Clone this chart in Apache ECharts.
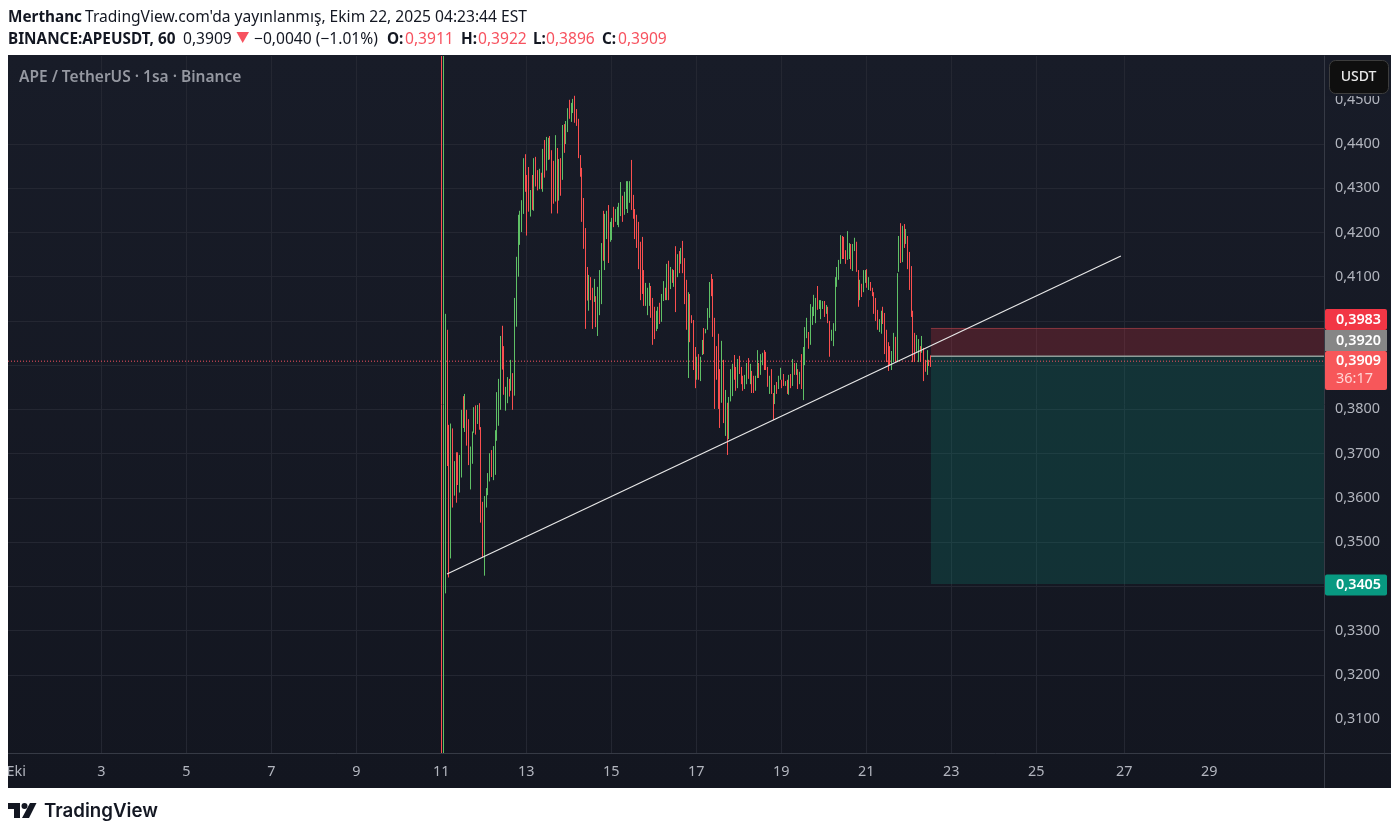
<!DOCTYPE html>
<html style="height: 100%">
<head>
<meta charset="utf-8">
<script src="https://cdn.jsdelivr.net/npm/echarts@6/dist/echarts.min.js"></script>
</head>
<body style="height: 100%; margin: 0; background: #fff">
<div id="container" style="width: 1400px; height: 835px"></div>
<script>
// hourly bars, prices in 1/10000 USDT
var barHighs = [
  4800,4700,4016,3980,3765,3768,3757,3683,3703,3703,
  3697,3799,3830,3835,3799,3778,3716,3750,3805,3809,
  3810,3814,3760,3591,3604,3622,3656,3701,3708,3717,
  3753,3839,3869,3966,3989,3943,3851,3873,3869,3912,
  3882,4052,4145,4240,4249,4273,4368,4377,4330,4348,
  4296,4330,4368,4371,4341,4344,4335,4389,4409,4416,
  4414,4418,4386,4362,4420,4391,4366,4368,4443,4445,
  4452,4481,4500,4493,4502,4509,4479,4457,4375,4346,
  4278,4210,4122,4104,4099,4075,4095,4056,4077,4115,
  4176,4249,4242,4249,4262,4224,4233,4258,4253,4258,
  4267,4314,4283,4292,4316,4316,4316,4364,4285,4253,
  4240,4224,4179,4190,4115,4086,4075,4086,4079,4052,
  4032,4023,4032,4041,4061,4090,4075,4129,4136,4122,
  4117,4115,4169,4151,4158,4165,4181,4142,4093,4065,
  4061,4013,4002,3941,3919,3925,3919,3957,3984,3982,
  4029,4088,4106,4095,4007,3943,3971,3891,3955,3912,
  3844,3815,3828,3891,3903,3923,3896,3914,3921,3896,
  3876,3878,3905,3916,3903,3887,3876,3876,3934,3905,
  3925,3928,3934,3930,3896,3876,3891,3837,3855,3862,
  3876,3894,3867,3880,3864,3867,3878,3880,3914,3905,
  3905,3891,3885,3925,3941,3986,4007,3975,4038,4032,
  4059,4052,4079,4047,4047,4045,4045,4036,4032,4000,
  3980,3995,4099,4122,4138,4194,4192,4190,4160,4203,
  4176,4174,4174,4188,4179,4115,4093,4084,4115,4115,
  4117,4099,4088,4075,4065,4052,4025,4004,4023,4032,
  4018,3980,3952,3943,3932,3973,3964,4108,4192,4221,
  4215,4219,4208,4192,4156,4124,4023,3973,3968,3959,
  3943,3966,3939,3912,3934,3912,3922
];
var barLows = [
  2850,2950,3384,3672,3420,3463,3578,3605,3589,3629,
  3612,3646,3758,3749,3718,3674,3619,3677,3747,3743,
  3767,3754,3544,3466,3424,3578,3606,3637,3647,3640,
  3652,3729,3763,3799,3890,3833,3797,3814,3829,3842,
  3799,3831,3987,4100,4172,4201,4242,4292,4193,4247,
  4236,4251,4249,4304,4295,4298,4298,4292,4324,4340,
  4364,4365,4243,4265,4270,4243,4272,4283,4319,4380,
  4400,4427,4457,4450,4470,4448,4441,4368,4326,4224,
  4163,3982,4046,4023,4047,3982,4043,3986,3966,4013,
  4038,4136,4115,4185,4131,4179,4183,4212,4224,4217,
  4212,4237,4224,4240,4253,4244,4267,4251,4231,4185,
  4165,4117,4047,4061,4034,4034,4013,4034,4007,3946,
  3959,3977,3982,3993,3998,4045,4047,4047,4047,4072,
  4086,4077,4020,4099,4108,4129,4108,4038,3980,3871,
  3952,3995,3889,3848,3867,3867,3864,3923,3925,3972,
  3980,4007,4056,3964,3801,3867,3801,3758,3815,3769,
  3740,3697,3733,3818,3830,3867,3842,3848,3880,3857,
  3842,3846,3857,3869,3857,3837,3837,3842,3871,3871,
  3878,3900,3889,3889,3851,3835,3835,3776,3812,3835,
  3846,3867,3848,3853,3853,3835,3833,3848,3853,3878,
  3878,3846,3857,3846,3821,3900,3961,3937,3946,3991,
  4011,3995,4025,4027,4004,4027,4009,4016,3995,3919,
  3955,3943,3977,4077,4093,4129,4140,4140,4129,4138,
  4140,4117,4113,4158,4111,4032,4047,4054,4065,4086,
  4075,4070,4068,4056,4016,4000,3980,3975,3971,3993,
  3925,3907,3887,3900,3889,3907,3907,3907,4111,4131,
  4133,4165,4174,4117,4070,4009,3907,3907,3930,3907,
  3907,3928,3864,3885,3878,3898,3896
];
// g = closed up, r = closed down
var barDirs = (
  'rggrrgrgrr' + 'ggrgrrgggr' + 'grrrggggrg' + 'ggggrrggrg' + 'rggggggrrr' +
  'grgrrgrgrg' + 'grrrgrgrgr' + 'ggrggrrrrr' + 'rrrgrrgrgg' + 'grggrggrgg' +
  'ggrggggrrr' + 'rrrrrgggrr' + 'rggrggrgrg' + 'rgrgrgrrrg' + 'rrrrgrggrg' +
  'ggrrrrrrgr' + 'grgggrrgrr' + 'rggrgrrggr' + 'ggrrrgrrgr' + 'ggrrgrgrgr' +
  'grgrgggrgg' + 'ggrgggrgrr' + 'ggggggrrrg' + 'grggrrgrgg' + 'rgrrrrrggr' +
  'rrrrggrggr' + 'grgrrrrrgg' + 'rgrrgrr'
).split('');
var firstBarDay = 11.014;

// the last two grid lines sit a little late in the picture
var dayTicks = [1, 3, 5, 7, 9, 11, 13, 15, 17, 19, 21, 23, 25, 27.07, 29.07];
var priceTicks = [0.31, 0.32, 0.33, 0.34, 0.35, 0.36, 0.37, 0.38, 0.39, 0.40, 0.41, 0.42, 0.43, 0.44, 0.45];

var lastPrice = 0.3909;
var entryPrice = 0.3920;
var stopPrice = 0.3983;
var targetPrice = 0.3405;
var tradeStartDay = 22.52;
var trendDays = [11.134, 26.99];
var trendPrices = [0.3428, 0.41468];

var xMin = 0.8047, xMax = 31.769;
var yMin = 0.30231, yMax = 0.4599;

var up = '#5fc066', down = '#fb4f4f';
var font = '"Noto Sans", sans-serif';
var headSize = 15.6, headBold = 15.3;

function commaPrice(v) { return v.toFixed(4).replace('.', ','); }

var barData = barHighs.map(function (h, i) {
  return [firstBarDay + i / 24, h / 10000, barLows[i] / 10000, barDirs[i] === 'g' ? 1 : 0];
});

function text(x, y, s, fill, weight, size, align) {
  return {
    type: 'text', z: 110,
    style: {
      x: x, y: y, text: s, fill: fill, textAlign: align || 'left', textVerticalAlign: 'middle',
      font: (weight || 'normal') + ' ' + (size || (weight === 'bold' ? headBold : headSize)) + 'px ' + font
    }
  };
}
function rect(x, y, w, h, fill, z, r, stroke) {
  return { type: 'rect', z: z, shape: { x: x, y: y, width: w, height: h, r: r || 0 }, style: { fill: fill, stroke: stroke || null, lineWidth: 1 } };
}
function rule(x1, y1, x2, y2) {
  return { type: 'line', z: 3, shape: { x1: x1, y1: y1, x2: x2, y2: y2 }, style: { stroke: '#363a45', lineWidth: 1 } };
}

var myChart = echarts.init(document.getElementById('container'), null, { renderer: 'canvas' });

var panelFill = new echarts.graphic.LinearGradient(0, 0, 0, 1, [
  { offset: 0, color: '#181c28' },
  { offset: 1, color: '#131620' }
]);

var option = {
  animation: false,
  backgroundColor: '#ffffff',
  grid: { left: 8, top: 56, width: 1316, height: 697, containLabel: false },
  xAxis: {
    type: 'value', min: xMin, max: xMax,
    axisLine: { show: true, onZero: false, lineStyle: { color: '#363a45' } },
    axisTick: { show: false, customValues: dayTicks },
    splitLine: { show: true, showMinLine: false, showMaxLine: false, lineStyle: { color: '#242732' } },
    axisLabel: {
      customValues: dayTicks, margin: 12, color: '#b2b5be', fontSize: 14.4, fontFamily: font,
      formatter: function (v) { return v === 1 ? 'Eki' : String(Math.floor(v)); }
    }
  },
  yAxis: {
    type: 'value', position: 'right', min: yMin, max: yMax,
    axisLine: { show: true, onZero: false, lineStyle: { color: '#363a45' } },
    axisTick: { show: false, customValues: priceTicks },
    splitLine: { show: true, showMinLine: false, showMaxLine: false, lineStyle: { color: '#242732' } },
    axisLabel: {
      customValues: priceTicks, margin: 11, color: '#b2b5be', fontSize: 14.4, fontFamily: font,
      formatter: commaPrice
    }
  },
  series: [
    {
      // short position box
      type: 'custom', clip: true, silent: true, z: 2,
      data: [
        [tradeStartDay, xMax, stopPrice, entryPrice, 0],
        [tradeStartDay, xMax, entryPrice, targetPrice, 1]
      ],
      renderItem: function (params, api) {
        var a = api.coord([api.value(0), api.value(2)]);
        var b = api.coord([api.value(1), api.value(3)]);
        var green = api.value(4) === 1;
        return {
          type: 'group',
          children: [
            { type: 'rect', shape: { x: a[0], y: a[1], width: b[0] - a[0], height: b[1] - a[1] },
              style: { fill: green ? 'rgba(8,153,129,0.2)' : 'rgba(242,54,69,0.22)' } },
            { type: 'line', shape: { x1: a[0], y1: a[1], x2: b[0], y2: a[1] },
              style: green ? { stroke: '#8f9d99', lineWidth: 1.5 } : { stroke: 'rgba(160,60,70,0.8)', lineWidth: 1 } }
          ]
        };
      }
    },
    {
      type: 'line', silent: true, z: 3, symbol: 'none',
      data: [[xMin, lastPrice], [xMax, lastPrice]],
      lineStyle: { color: '#f7525f', width: 1, type: [1, 2] }
    },
    {
      type: 'custom', clip: true, silent: true, z: 4,
      data: barData,
      renderItem: function (params, api) {
        var hi = api.coord([api.value(0), api.value(1)]);
        var lo = api.coord([api.value(0), api.value(2)]);
        var x = Math.floor(hi[0]) + 0.5;
        return {
          type: 'line',
          shape: { x1: x, y1: hi[1], x2: x, y2: lo[1] },
          style: { stroke: api.value(3) === 1 ? up : down, lineWidth: 1 }
        };
      }
    },
    {
      type: 'line', silent: true, z: 5, symbol: 'none',
      data: [[trendDays[0], trendPrices[0]], [trendDays[1], trendPrices[1]]],
      lineStyle: { color: '#e8e8e8', width: 1.2 }
    }
  ],
  graphic: [
    // panel behind everything, then the page strip that cuts off "Eki"
    rect(8, 55, 1383, 733, panelFill, -10),
    rect(0, 750, 8, 50, '#ffffff', 100),
    rule(1324.5, 753.5, 1391, 753.5),
    rule(1324.5, 753.5, 1324.5, 788),

    text(8, 18, 'Merthanc', '#131722', 'bold'),
    text(85, 18, "TradingView.com'da yayınlanmış, Ekim 22, 2025 04:23:44 EST", '#131722'),
    text(8, 39.5, 'BINANCE:APEUSDT, 60', '#131722', 'bold'),
    text(183, 39.5, '0,3909', '#131722'),
    { type: 'polygon', z: 110, shape: { points: [[236.5, 32], [249, 32], [242.7, 43]] }, style: { fill: '#f7525f' } },
    text(254, 39.5, '−0,0040 (−1.01%)', '#131722'),
    text(387, 39.5, 'O:', '#131722', 'bold'),
    text(405, 39.5, '0,3911', '#f7525f'),
    text(461, 39.5, 'H:', '#131722', 'bold'),
    text(478, 39.5, '0,3922', '#f7525f'),
    text(533, 39.5, 'L:', '#131722', 'bold'),
    text(546, 39.5, '0,3896', '#f7525f'),
    text(602, 39.5, 'C:', '#131722', 'bold'),
    text(618, 39.5, '0,3909', '#f7525f'),

    text(19, 78, 'APE / TetherUS · 1sa · Binance', '#9598a1', '600', 15.5),

    // unit button and price badges
    rect(1325.5, 56, 65, 40, '#171b27', 104),
    rect(1329.5, 60.5, 59, 33, '#0f0f0f', 105, 6, '#3d3d3d'),
    text(1358.5, 77.5, 'USDT', '#e8e8e8', '500', 14, 'center'),
    rect(1325, 309, 62, 21, '#f23645', 105, 2),
    text(1358.5, 319.5, '0,3983', '#ffffff', '600', 14.4, 'center'),
    rect(1325, 330, 62, 21, '#868686', 105),
    text(1358.5, 340.5, '0,3920', '#ffffff', '600', 14.4, 'center'),
    rect(1325, 351, 62, 39, '#f7575a', 105, 2),
    text(1358.5, 361, '0,3909', '#ffffff', '600', 14.4, 'center'),
    text(1354.5, 379, '36:17', '#ffd5d5', 'normal', 14.4, 'center'),
    rect(1325, 574.5, 62, 21, '#089981', 105, 2),
    text(1358.5, 585, '0,3405', '#ffffff', '600', 14.4, 'center'),

    // TradingView logo
    { type: 'polygon', z: 110, shape: { points: [[8, 803], [20, 803], [20, 818], [14, 818], [14, 809], [8, 809]] }, style: { fill: '#131722' } },
    { type: 'circle', z: 110, shape: { cx: 24.5, cy: 806, r: 3 }, style: { fill: '#131722' } },
    { type: 'polygon', z: 110, shape: { points: [[30, 803], [36.5, 803], [29, 818], [22, 818]] }, style: { fill: '#131722' } },
    {
      type: 'text', z: 110,
      style: { x: 44, y: 811.5, text: 'TradingView', fill: '#131722', textVerticalAlign: 'middle', font: '600 18.7px Inter, sans-serif' }
    }
  ]
};

myChart.setOption(option);
</script>
</body>
</html>
